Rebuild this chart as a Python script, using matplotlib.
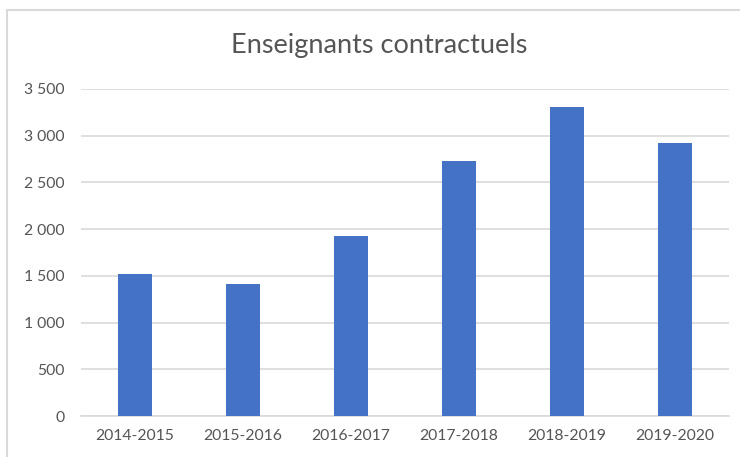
import matplotlib.pyplot as plt
from matplotlib.patches import Rectangle
from matplotlib.ticker import FuncFormatter

# données
annees = ["2014-2015", "2015-2016", "2016-2017", "2017-2018", "2018-2019", "2019-2020"]
effectifs = [1515, 1412, 1928, 2728, 3305, 2920]

plt.rcParams['font.family'] = ['Lato', 'DejaVu Sans']

fig = plt.figure(figsize=(7.4, 4.57), dpi=100)
ax = fig.add_axes([81/740, 41/457, 648/740, 327/457])

x = range(len(annees))
ax.bar(x, effectifs, width=0.315, color='#4472C4', zorder=3)

ax.set_xlim(-0.5, len(annees) - 0.5)
ax.set_ylim(0, 3500)
ax.set_yticks(range(0, 3501, 500))
ax.yaxis.set_major_formatter(FuncFormatter(lambda v, p: f"{int(v):,}".replace(",", " ")))
ax.set_xticks(list(x))
ax.set_xticklabels(annees)

ax.grid(axis='y', color='#D9D9D9', linewidth=1.2, zorder=0)
for s in ['top', 'right', 'left']:
    ax.spines[s].set_visible(False)
ax.spines['bottom'].set_color('#D9D9D9')
ax.spines['bottom'].set_linewidth(1.2)
ax.tick_params(axis='both', length=0, colors='#555555', labelsize=11.3)
ax.tick_params(axis='y', pad=12)
ax.tick_params(axis='x', pad=9)

fig.text(0.513, 0.90, "Enseignants contractuels", ha='center', va='center',
         fontsize=19.5, color='#555555')

# cadre du graphique
fig.add_artist(Rectangle((7/740, -0.1), 1.2, 1.1 - 10/457, transform=fig.transFigure,
                         fill=False, edgecolor='#D9D9D9', linewidth=1.5))

fig.savefig("out.png", dpi=100)
